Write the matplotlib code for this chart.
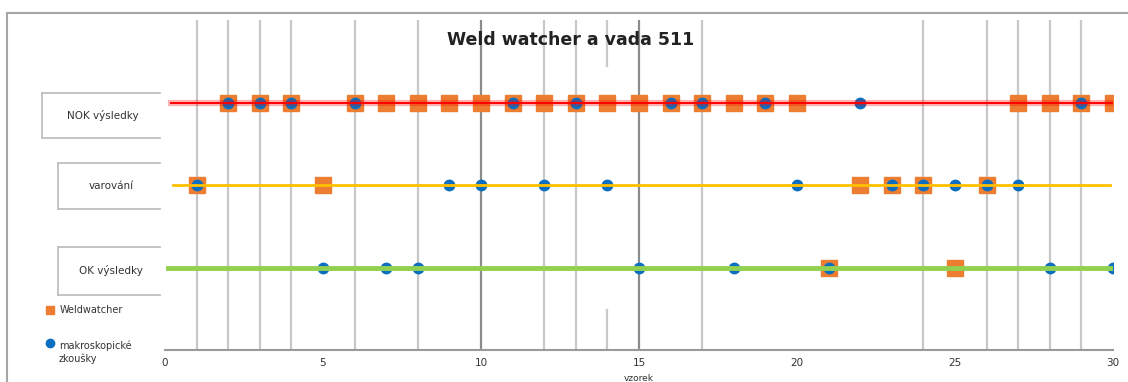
import matplotlib.pyplot as plt
from matplotlib.lines import Line2D

# Samples per result row (x = sample number).
nok_weldwatcher = [2, 3, 4, 6, 7, 8, 9, 10, 11, 12, 13, 14, 15, 16, 17, 18, 19, 20, 27, 28, 29, 30]
nok_makro = [2, 3, 4, 6, 11, 13, 16, 17, 19, 22, 29]
warn_weldwatcher = [1, 5, 22, 23, 24, 26]
warn_makro = [1, 9, 10, 12, 14, 20, 23, 24, 25, 26, 27]
ok_weldwatcher = [21, 25]
ok_makro = [5, 7, 8, 15, 18, 21, 28, 30]

row_labels = ["OK výsledky", "varování", "NOK výsledky"]
row_levels = [1, 2, 3]
marked_samples = [1, 2, 3, 4, 6, 8, 10, 12, 13, 14, 15, 17, 24, 26, 27, 28, 29]
x_ticks = [0, 5, 10, 15, 20, 25, 30]

ORANGE = "#ED7D31"
BLUE = "#0B6EC0"

fig = plt.figure(figsize=(11.28, 3.82), dpi=100)
ax = fig.add_axes([165 / 1128, 32 / 382, 948 / 1128, 330 / 382])
ax.set_xlim(0, 30)
ax.set_ylim(0, 4)

# vertical marker lines
for s in marked_samples:
    if s in (10, 15):
        ax.axvline(s, color="#8c8c8c", lw=1.6, zorder=1)
    elif s == 14:
        ax.axvline(s, ymin=0, ymax=0.12, color="#c8c8c8", lw=1.6, zorder=1)
        ax.axvline(s, ymin=0.86, ymax=1, color="#c8c8c8", lw=1.6, zorder=1)
    else:
        ax.axvline(s, color="#c8c8c8", lw=1.6, zorder=1)

sq = dict(marker="s", ms=11.5, color=ORANGE, ls="none", zorder=3)
ci = dict(marker="o", ms=7.5, color=BLUE, ls="none", zorder=4)

ax.plot(nok_weldwatcher, [3] * len(nok_weldwatcher), **sq)
ax.plot(nok_makro, [3] * len(nok_makro), **ci)
ax.plot(warn_weldwatcher, [2] * len(warn_weldwatcher), **sq)
ax.plot(warn_makro, [2] * len(warn_makro), **ci)
ax.plot(ok_weldwatcher, [1] * len(ok_weldwatcher), **sq)
ax.plot(ok_makro, [1] * len(ok_makro), **ci)

# row lines
ax.plot([0.2, 30], [3, 3], color="#FF0000", lw=4.5, alpha=0.3, zorder=5)
ax.plot([0.2, 30], [3, 3], color="#FF0000", lw=1.4, zorder=5)
ax.plot([0.25, 29.9], [2, 2], color="#FFC000", lw=2, zorder=5)
ax.plot([0.1, 30], [1, 1], color="#92D050", lw=3.5, zorder=5)

for side in ("left", "right", "top"):
    ax.spines[side].set_visible(False)
ax.spines["bottom"].set_color("#9a9a9a")
ax.spines["bottom"].set_linewidth(1.5)
ax.set_yticks([])
ax.set_xticks(x_ticks)
ax.set_xticks([10, 15], minor=True)
ax.tick_params(axis="x", which="major", length=0, pad=6, labelsize=7.5, labelcolor="#333333")
ax.tick_params(axis="x", which="minor", length=4, width=1.4, color="#8c8c8c")
ax.set_xlabel("vzorek", fontsize=6.5, color="#333333")
ax.xaxis.set_label_coords(0.5, -0.072)

fig.text(0.506, 0.895, "Weld watcher a vada 511", ha="center", va="center",
         fontsize=12.5, fontweight="bold", color="#222222")

# row label boxes (left, top and bottom edges)
px = lambda x, y: (x / 1128, 1 - y / 382)
boxes = [(58, 247, 295), (58, 163, 209), (42, 93, 138)]
for label, (bx, top, bot) in zip(row_labels, boxes):
    for seg in (((bx, top), (160, top)), ((bx, bot), (160, bot)), ((bx, top), (bx, bot))):
        (x0, y0), (x1, y1) = px(*seg[0]), px(*seg[1])
        fig.add_artist(Line2D([x0, x1], [y0, y1], color="#bfbfbf", lw=1.3))
    cx, cy = px((bx + 160) / 2 + 2, (top + bot) / 2)
    fig.text(cx, cy, label, ha="center", va="center", fontsize=7.5, color="#333333")

# legend
lx, ly = px(50, 310)
fig.add_artist(Line2D([lx], [ly], marker="s", ms=6, color=ORANGE, ls="none"))
fig.text(*px(60, 310), "Weldwatcher", ha="left", va="center", fontsize=7, color="#333333")
lx, ly = px(50, 343)
fig.add_artist(Line2D([lx], [ly], marker="o", ms=6, color=BLUE, ls="none"))
fig.text(*px(59, 352), "makroskopické\nzkoušky", ha="left", va="center", fontsize=7,
         color="#333333", linespacing=1.3)

# chart area border
x0, y0 = px(7, 13)
fig.add_artist(Line2D([x0, x0], [0, y0], color="#a6a6a6", lw=1.5))
fig.add_artist(Line2D([x0, 1], [y0, y0], color="#a6a6a6", lw=1.5))

fig.savefig("out.png", dpi=100)
